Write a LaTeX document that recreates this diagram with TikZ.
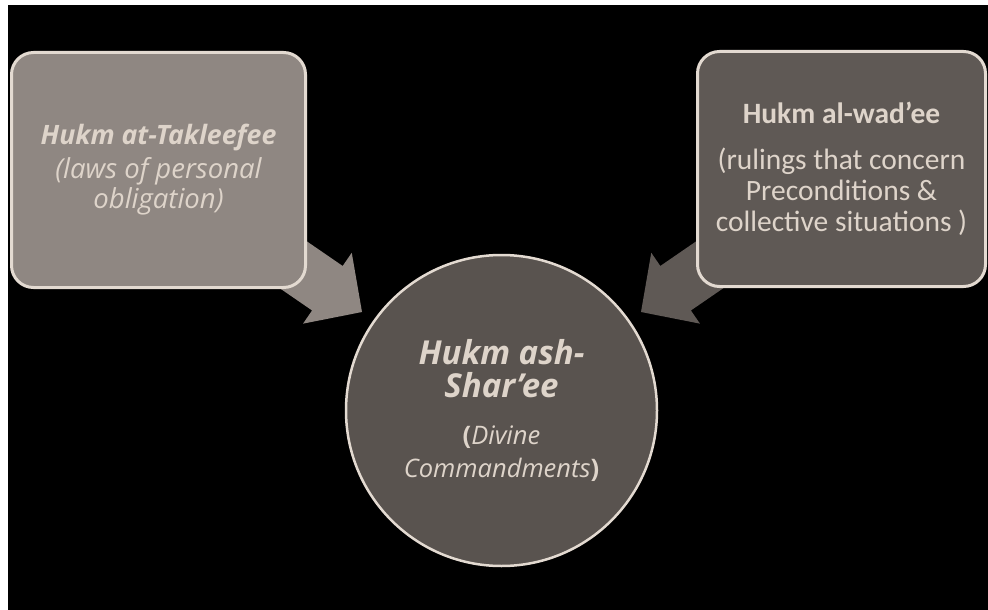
\documentclass[tikz,border=0pt]{standalone}
\usepackage{fontspec}
\setmainfont{Open Sans}
\newfontfamily\calib{Carlito}
\definecolor{boxL}{HTML}{8F8782}
\definecolor{boxR}{HTML}{5F5955}
\definecolor{circ}{HTML}{59534F}
\definecolor{edge}{HTML}{E3DAD1}
\definecolor{txt}{HTML}{DED4CA}
\newcommand{\fA}{\fontsize{26.7}{30}\selectfont\bfseries\itshape}
\newcommand{\fB}{\fontsize{27.5}{30}\selectfont\itshape}
\newcommand{\fC}{\calib\fontsize{29.5}{31}\selectfont\bfseries}
\newcommand{\fD}{\calib\fontsize{29.5}{31}\selectfont}
\newcommand{\fE}{\fontsize{33}{42}\selectfont\bfseries\itshape}
\newcommand{\fF}{\fontsize{25.5}{33}\selectfont}
\tikzset{
  panel/.style={draw=edge, line width=3pt, rounded corners=22pt, text=txt, align=center, inner sep=0pt},
  hub/.style={circle, draw=edge, line width=2.5pt, fill=circ, text=txt, align=center, inner sep=0pt}
}
\begin{document}
\begin{tikzpicture}[x=1pt,y=1pt]
\useasboundingbox (0,0) rectangle (988,-610);
\fill[white] (0,0) rectangle (988,-610);
\fill[black] (8,-5) rectangle (988,-610);
% arrow tips
\coordinate (tipL) at (362,-312);
\coordinate (tipR) at (641,-312);
\begin{scope}[shift={(tipL)}, rotate=-34.5]
  \fill[boxL] (0,0) -- (-42,43) -- (-42,27) -- (-170,27) -- (-170,-27) -- (-42,-27) -- (-42,-43) -- cycle;
\end{scope}
\begin{scope}[shift={(tipR)}, rotate=214.5]
  \fill[boxR] (0,0) -- (-42,43) -- (-42,27) -- (-170,27) -- (-170,-27) -- (-42,-27) -- (-42,-43) -- cycle;
\end{scope}
\node[panel, fill=boxL, minimum width=294pt, minimum height=235pt, font=\fB] (tak) at (158.5,-170)
  {\fA Hukm at-Takleefee\\[4pt]
   \fB (laws of personal\\ \fB obligation)};
\node[panel, fill=boxR, minimum width=288pt, minimum height=235pt, font=\fD] (wad) at (841.5,-169)
  {\fC Hukm al-wad’ee\\[15pt]
   \fD (rulings that concern\\ \fD Preconditions \&\\ \fD collective situations )};
\node[hub, minimum size=311pt, font=\fF] (shar) at (501.5,-410.5)
  {\fE Hukm ash-\\ \fE Shar’ee\\[14pt]
   \fF{\bfseries(}\textit{Divine}\\ \fF\textit{Commandments}{\bfseries)}};
\end{tikzpicture}
\end{document}
